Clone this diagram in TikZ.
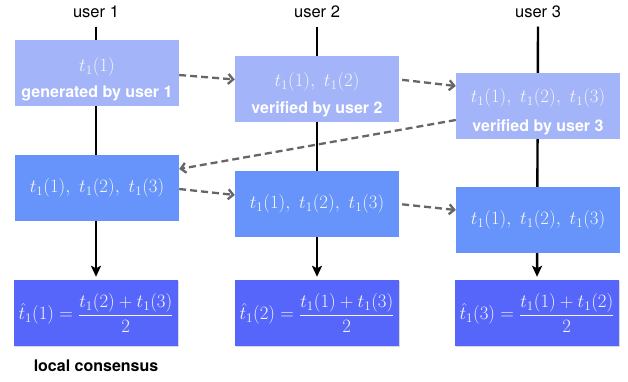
\RequirePackage{fix-cm}
\documentclass[tikz,border=0pt]{standalone}
\usepackage{amsmath}
\usepackage[no-math]{fontspec}
\newfontfamily\helv{TeX Gyre Heros}
\usetikzlibrary{positioning, arrows.meta, shadows, backgrounds}
\definecolor{rowone}{HTML}{A4B4F8}
\definecolor{rowtwo}{HTML}{6694FA}
\definecolor{rowthree}{HTML}{5766FA}
\definecolor{msgcol}{HTML}{666666}

\begin{document}
\begin{tikzpicture}[x=1pt, y=1pt,
    userlbl/.style={font=\helv\fontsize{16.5}{19}\selectfont},
    rolelbl/.style={text=white, font=\helv\bfseries\fontsize{16}{19}\selectfont},
    valtxt/.style={text=white!92!gray, font=\fontsize{18.8}{22}\selectfont},
    msgbox/.style={valtxt, minimum width=164pt, minimum height=66pt, inner sep=0pt},
    consbox/.style={msgbox, fill=rowthree, drop shadow={shadow xshift=1.2pt, shadow yshift=-1.2pt, opacity=0.3}},
    lifeline/.style={line width=2.4pt, -{Stealth[length=11pt, width=10pt, inset=2.5pt]}, shorten >=3pt},
    msg/.style={draw=msgcol, line width=2.3pt, dash pattern=on 7pt off 4pt, -{Straight Barb[length=5pt, width=10pt]}}
  ]
  \useasboundingbox (0,0) rectangle (628,-382);
  \node[userlbl] (u1) at (96,-12) {user 1};
  \node[userlbl] (u2) at (317,-12) {user 2};
  \node[userlbl] (u3) at (538,-12) {user 3};

  \node[msgbox, fill=rowone] (gen1) at (97,-73) {};
  \node[msgbox, fill=rowone] (ver2) at (317,-89.5) {};
  \node[msgbox, fill=rowone] (ver3) at (538,-106) {};
  \node[valtxt] (g1val) at ([yshift=6]gen1.center) {$t_1(1)$};
  \node[rolelbl] (g1role) at ([yshift=-20]gen1.center) {generated by user 1};
  \node[valtxt] (v2val) at ([yshift=8]ver2.center) {$t_1(1),\ t_1(2)$};
  \node[rolelbl] (v2role) at ([yshift=-20]ver2.center) {verified by user 2};
  \node[valtxt] (v3val) at ([yshift=8]ver3.center) {$t_1(1),\ t_1(2),\ t_1(3)$};
  \node[rolelbl] (v3role) at ([yshift=-21]ver3.center) {verified by user 3};

  \node[msgbox, fill=rowtwo] (all1) at (97,-188) {$t_1(1),\ t_1(2),\ t_1(3)$};
  \node[msgbox, fill=rowtwo] (all2) at (317,-204) {$t_1(1),\ t_1(2),\ t_1(3)$};
  \node[msgbox, fill=rowtwo] (all3) at (538,-220) {$t_1(1),\ t_1(2),\ t_1(3)$};

  \node[consbox] (est1) at (96,-313) {$\hat{t}_1(1)=\dfrac{t_1(2)+t_1(3)}{2}$};
  \node[consbox] (est2) at (317,-313) {$\hat{t}_1(2)=\dfrac{t_1(1)+t_1(3)}{2}$};
  \node[consbox] (est3) at (537,-313) {$\hat{t}_1(3)=\dfrac{t_1(1)+t_1(2)}{2}$};
  \node[rolelbl, text=black] (lc) at (96,-366) {local consensus};

  \begin{scope}[on background layer]
    \draw[lifeline] ([yshift=-5]u1.south) -- (est1.north);
    \draw[lifeline] ([yshift=-5]u2.south) -- (est2.north);
    \draw[lifeline] ([yshift=-5]u3.south) -- (est3.north);
  \end{scope}

  \draw[msg] ([yshift=-2]gen1.east) -- ([yshift=10]ver2.west);
  \draw[msg, shorten <=3pt] ([yshift=10]ver2.east) -- ([yshift=20]ver3.west);
  \draw[msg] ([yshift=-14]ver3.west) -- ([yshift=19]all1.east);
  \draw[msg] ([yshift=-1]all1.east) -- ([yshift=9]all2.west);
  \draw[msg, shorten <=3pt] (all2.east) -- ([yshift=10]all3.west);
\end{tikzpicture}
\end{document}
